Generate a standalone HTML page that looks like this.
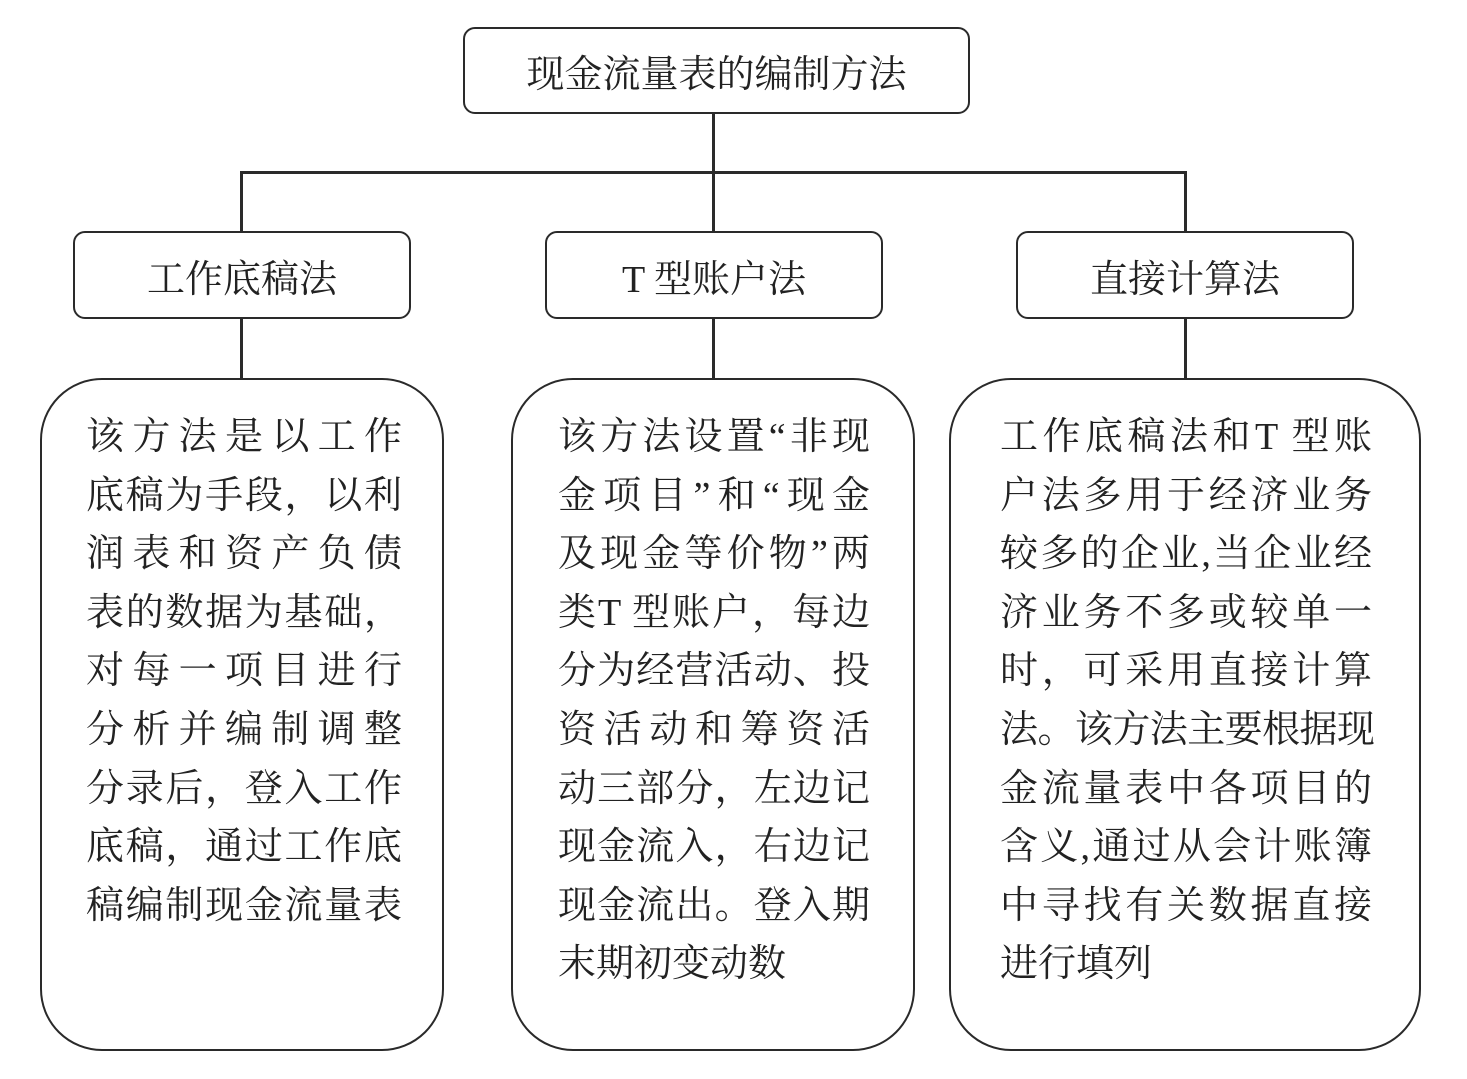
<!DOCTYPE html>
<html><head><meta charset="utf-8"><style>
body{margin:0;width:1467px;height:1079px;background:#fff;position:relative;overflow:hidden;font-family:"Liberation Serif","Noto Serif CJK SC",serif;color:#222}
.b{position:absolute;border:2.5px solid #2a2a2a;box-sizing:border-box;display:flex;align-items:center;justify-content:center;font-size:38px}
.l{position:absolute;background:#2a2a2a}
.t{position:absolute;font-size:38px;line-height:58.6px}
.t div{text-align:justify;text-align-last:justify;height:58.6px;white-space:nowrap}
.t div.n{text-align-last:left}
</style></head><body>
<div class="b" style="left:463px;top:27px;width:507px;height:87px;border-radius:12px">现金流量表的编制方法</div>
<div class="l" style="left:712px;top:113px;width:2.5px;height:60px"></div>
<div class="l" style="left:240px;top:171px;width:947px;height:2.5px"></div>
<div class="l" style="left:240px;top:171px;width:2.5px;height:61px"></div>
<div class="l" style="left:712px;top:171px;width:2.5px;height:61px"></div>
<div class="l" style="left:1184px;top:171px;width:2.5px;height:61px"></div>
<div class="b" style="left:73px;top:231px;width:338px;height:88px;border-radius:12px">工作底稿法</div>
<div class="b" style="left:545px;top:231px;width:338px;height:88px;border-radius:12px">T 型账户法</div>
<div class="b" style="left:1016px;top:231px;width:338px;height:88px;border-radius:12px">直接计算法</div>
<div class="l" style="left:240px;top:318px;width:2.5px;height:61px"></div>
<div class="l" style="left:712px;top:318px;width:2.5px;height:61px"></div>
<div class="l" style="left:1184px;top:318px;width:2.5px;height:61px"></div>
<div class="b" style="left:40px;top:378px;width:404px;height:673px;border-radius:62px"></div>
<div class="b" style="left:511px;top:378px;width:404px;height:673px;border-radius:62px"></div>
<div class="b" style="left:949px;top:378px;width:472px;height:673px;border-radius:62px"></div>
<div class="t" style="left:86px;top:408px;width:316px">
<div>该方法是以工作</div><div>底稿为手段，以利</div><div>润表和资产负债</div><div>表的数据为基础，</div><div>对每一项目进行</div><div>分析并编制调整</div><div>分录后，登入工作</div><div>底稿，通过工作底</div><div>稿编制现金流量表</div></div>
<div class="t" style="left:558px;top:408px;width:312px">
<div>该方法设置“非现</div><div>金项目”和“现金</div><div>及现金等价物”两</div><div>类T 型账户，每边</div><div>分为经营活动、投</div><div>资活动和筹资活</div><div>动三部分，左边记</div><div>现金流入，右边记</div><div>现金流出。登入期</div><div class="n">末期初变动数</div></div>
<div class="t" style="left:1000px;top:408px;width:372px">
<div>工作底稿法和T 型账</div><div>户法多用于经济业务</div><div>较多的企业,当企业经</div><div>济业务不多或较单一</div><div>时，可采用直接计算</div><div style="letter-spacing:-3px">法。该方法主要根据现</div><div>金流量表中各项目的</div><div>含义,通过从会计账簿</div><div>中寻找有关数据直接</div><div class="n">进行填列</div></div>
</body></html>
